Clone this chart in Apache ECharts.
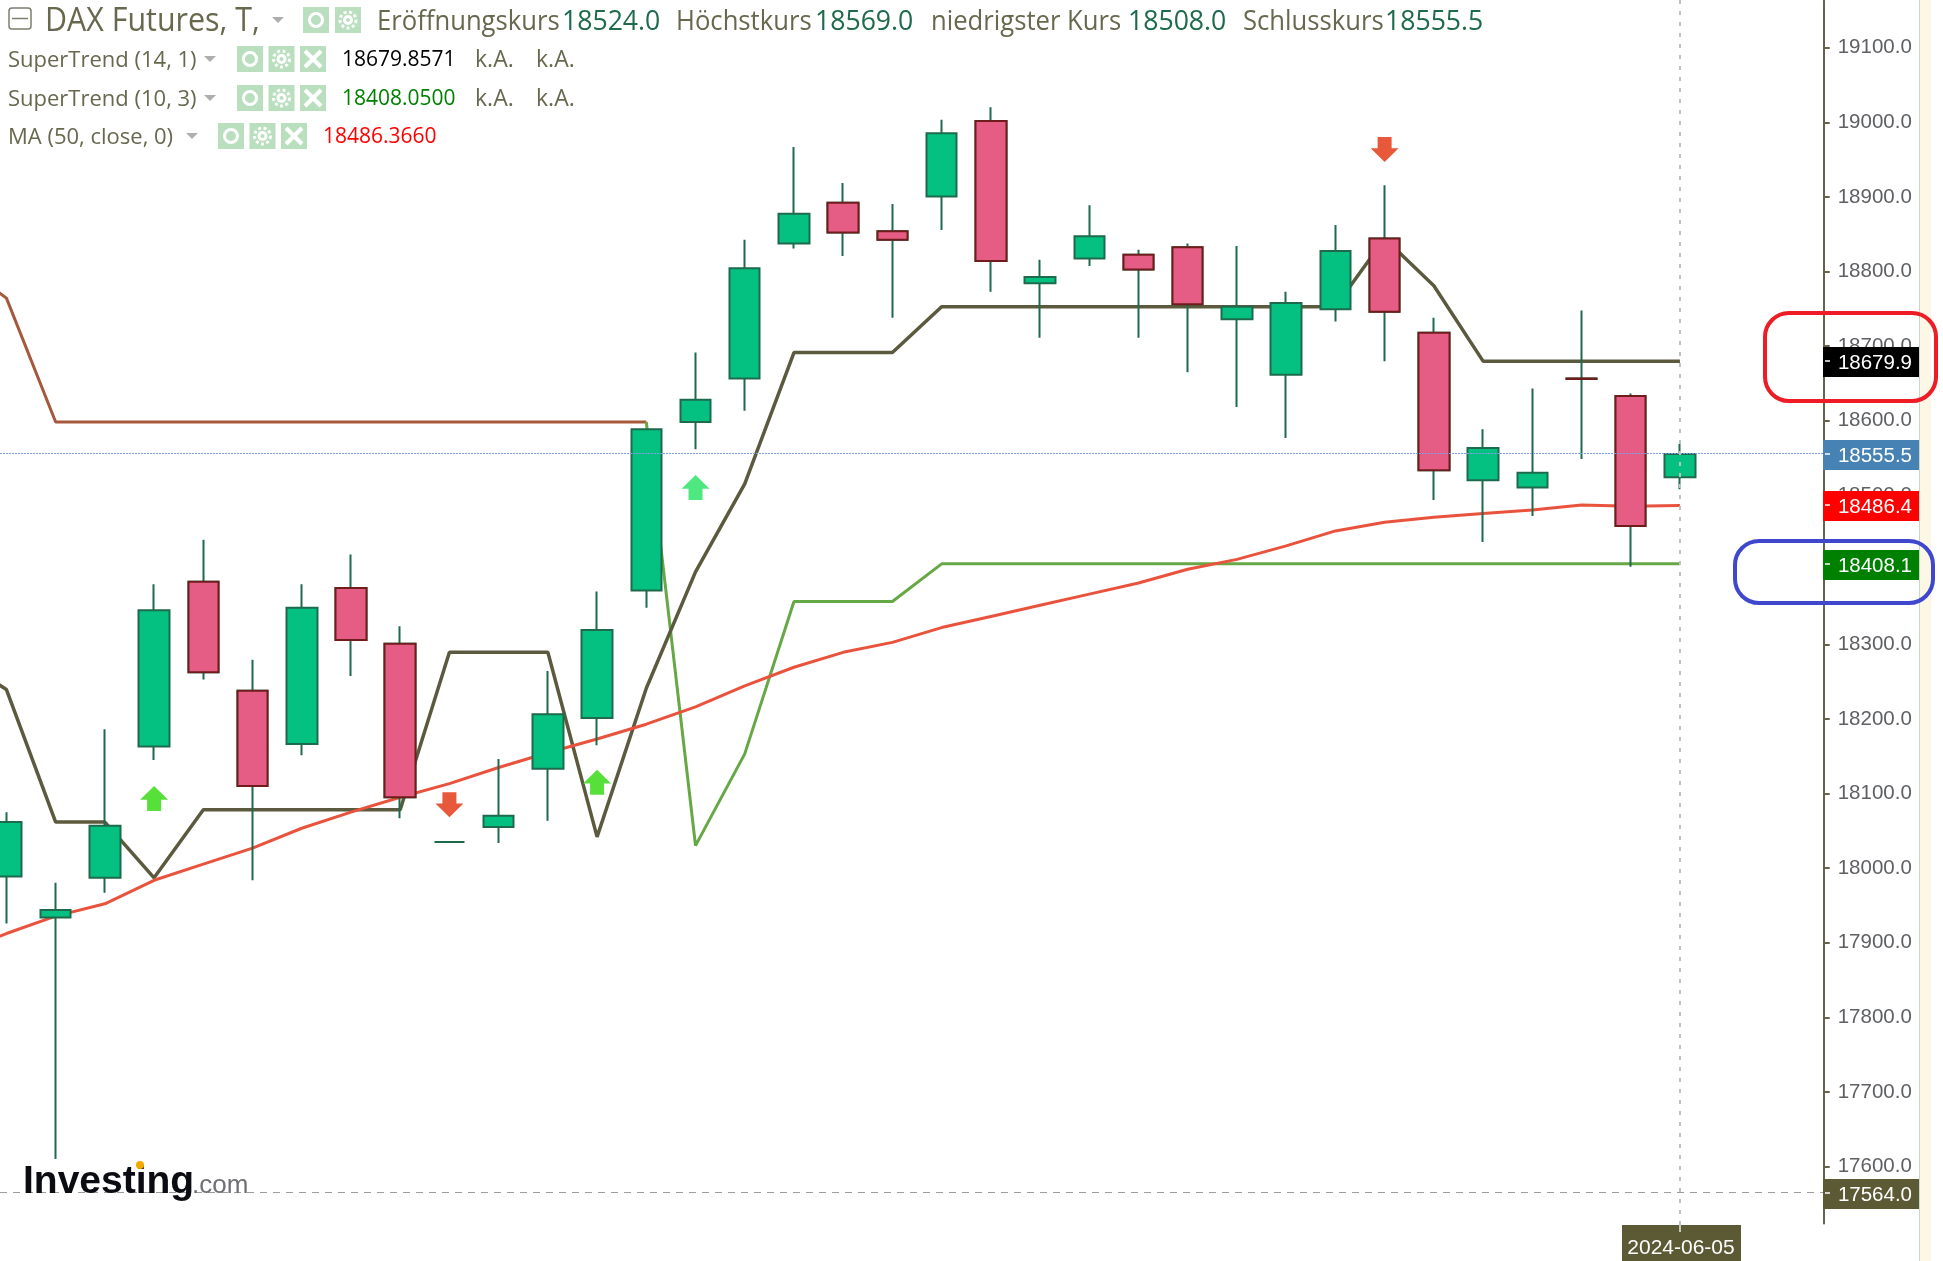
<!DOCTYPE html>
<html>
<head>
<meta charset="utf-8">
<title>DAX Futures</title>
<script src="https://cdn.jsdelivr.net/npm/echarts@6/dist/echarts.min.js"></script>
<style>
  html, body { margin: 0; padding: 0; background: #fff; }
  #chart { width: 1943px; height: 1261px; }
</style>
</head>
<body>
<div id="chart"></div>
<script>
// trading days, one empty day before and two after so the plot runs off both sides
const categories = ['2024-04-16', '2024-04-17', '2024-04-18', '2024-04-19', '2024-04-22', '2024-04-23', '2024-04-24', '2024-04-25',
  '2024-04-26', '2024-04-29', '2024-04-30', '2024-05-02', '2024-05-03', '2024-05-06', '2024-05-07', '2024-05-08', '2024-05-09',
  '2024-05-10', '2024-05-13', '2024-05-14', '2024-05-15', '2024-05-16', '2024-05-17', '2024-05-20', '2024-05-21', '2024-05-22',
  '2024-05-23', '2024-05-24', '2024-05-27', '2024-05-28', '2024-05-29', '2024-05-30', '2024-05-31', '2024-06-03', '2024-06-04',
  '2024-06-05', '2024-06-06', '2024-06-07'];

// open, close, low, high
const ohlc = [
  [17988.7, 18061.8, 17925.6, 18075], [17933.9, 17943.9, 17610, 17980.4], [17987, 18056.8, 17967.1, 18186.4],
  [18163.1, 18345.9, 18144.9, 18380.7], [18384.1, 18262.8, 18252.8, 18440.5], [18237.9, 18110, 17983.7, 18279.4],
  [18166.5, 18349.2, 18151.5, 18380.7], [18375.8, 18306, 18257.8, 18420.6], [18301, 18095, 18066.8, 18324.3],
  [18035.2, 18035.2, 18035.2, 18035.2], [18055.2, 18070.1, 18033.6, 18146.5], [18133.2, 18206.3, 18063.5, 18264.5],
  [18201.3, 18319.3, 18164.8, 18370.8], [18372.4, 18588.4, 18349.2, 18588.4], [18598.3, 18628.2, 18561.8, 18691.4],
  [18656.5, 18804.3, 18613.3, 18842.5], [18837.5, 18877.4, 18830.9, 18967.1], [18892.4, 18852.5, 18820.9, 18918.9],
  [18854.1, 18842.5, 18737.9, 18890.7], [18900.7, 18985.4, 18855.8, 19003.6], [19002, 18814.3, 18772.8, 19020.3],
  [18784.4, 18792.7, 18711.3, 18815.9], [18817.6, 18847.5, 18807.6, 18889], [18822.6, 18802.7, 18711.3, 18829.2],
  [18832.6, 18756.1, 18664.8, 18837.5], [18736.2, 18752.8, 18618.3, 18834.2], [18661.5, 18757.8, 18576.7, 18772.8],
  [18749.5, 18827.6, 18732.9, 18862.5], [18844.2, 18746.2, 18679.7, 18915.6], [18717.9, 18533.6, 18493.7, 18737.9],
  [18520.3, 18563.5, 18437.2, 18588.4], [18510.3, 18530.2, 18472.1, 18643.2], [18656.5, 18656, 18548.5, 18747.8],
  [18633.2, 18458.8, 18404, 18636.5], [18524, 18555.5, 18508, 18569]
];

const superTrend14 = [18282.7, 18239.5, 18061.8, 18061.8, 17987, 18078.4, 18078.4, 18078.4, 18078.4, 18078.4, 18289.4, 18289.4,
  18289.4, 18041.9, 18241.2, 18397.3, 18515.3, 18691.4, 18691.4, 18691.4, 18752.8, 18752.8, 18752.8, 18752.8, 18752.8, 18752.8,
  18752.8, 18752.8, 18752.8, 18844.2, 18781, 18679.86, 18679.86, 18679.86, 18679.86, 18679.86];

const superTrend10Down = [18814, 18764.4, 18598.3, 18598.3, 18598.3, 18598.3, 18598.3, 18598.3, 18598.3, 18598.3, 18598.3,
  18598.3, 18598.3, 18598.3, 18598.3];
const superTrend10Up = [18598.3, 18030.2, 18153.2, 18357.5, 18357.5, 18357.5, 18408.05, 18408.05, 18408.05, 18408.05, 18408.05,
  18408.05, 18408.05, 18408.05, 18408.05, 18408.05, 18408.05, 18408.05, 18408.05, 18408.05, 18408.05, 18408.05];

const ma50 = [17885.7, 17912.3, 17935.6, 17952.2, 17983.7, 18005.3, 18026.9, 18053.5, 18075.1, 18095, 18113.3, 18134.9, 18154.8,
  18173.1, 18193, 18216.3, 18244.5, 18269.4, 18289.4, 18302.7, 18322.6, 18337.5, 18352.5, 18367.4, 18382.4, 18400.7, 18414,
  18432.2, 18452.2, 18463.8, 18470.4, 18475.4, 18480.4, 18487, 18485.4, 18486.4];

const buySignals = [['2024-04-22', 18093.4], ['2024-05-06', 18115]];
const freshBuySignals = [['2024-05-08', 18510.3]];
const sellSignals = [['2024-04-30', 18085], ['2024-05-28', 18963.8]];

const tickLabels = [17600, 17700, 17800, 17900, 18000, 18100, 18200, 18300, 18400, 18500, 18600, 18700, 18800, 18900, 19000, 19100];
const tagValues = [18679.9, 18555.5, 18486.4, 18408.1, 17564.0];
const tagColors = ['#000000', '#4682b4', '#ff0000', '#008000', '#5c5a35'];
const lastDate = '2024-06-05';
const lastPrice = 18555.5;
const lowPrice = 17564.0;

const axisX = 1824;
const labelColor = '#68684f';
const valueColor = '#1d6a4c';
const iconColor = '#b9dfbf';

const chart = echarts.init(document.getElementById('chart'));

function txt(text, x, y, size, fill, scaleX) {
  return {
    type: 'text', x, y, scaleX: scaleX || 1, z: 20,
    style: { text, fill, font: size + 'px "Open Sans"', textVerticalAlign: 'middle' }
  };
}

function caret(x, y) {
  return { type: 'polygon', z: 20, shape: { points: [[x, y], [x + 12, y], [x + 6, y + 6]] }, style: { fill: '#aeaeae' } };
}

// eye / gear / close buttons of the legend rows
function icon(kind, x, y) {
  const cx = x + 13, cy = y + 13;
  const out = [{ type: 'rect', z: 20, shape: { x, y, width: 26, height: 26 }, style: { fill: iconColor } }];
  if (kind === 'eye') {
    out.push({ type: 'circle', z: 21, shape: { cx, cy, r: 6.5 }, style: { fill: 'none', stroke: '#fff', lineWidth: 3 } });
  } else if (kind === 'gear') {
    out.push({ type: 'circle', z: 21, shape: { cx, cy, r: 8 }, style: { fill: 'none', stroke: '#fff', lineWidth: 3, lineDash: [3, 2.5] } });
    out.push({ type: 'circle', z: 21, shape: { cx, cy, r: 5 }, style: { fill: '#fff' } });
    out.push({ type: 'circle', z: 22, shape: { cx, cy, r: 2 }, style: { fill: iconColor } });
  } else {
    out.push({ type: 'line', z: 21, shape: { x1: x + 5, y1: y + 5, x2: x + 21, y2: y + 21 }, style: { stroke: '#fff', lineWidth: 4 } });
    out.push({ type: 'line', z: 21, shape: { x1: x + 21, y1: y + 5, x2: x + 5, y2: y + 21 }, style: { stroke: '#fff', lineWidth: 4 } });
  }
  return out;
}

function legendRow(name, y, caretX, iconX, value, color, valueX, naCols) {
  const ty = y + 1.3;
  let out = [txt(name, 8, ty, 22, labelColor), caret(caretX, y - 3), txt(value, valueX, ty, 21, color)];
  ['eye', 'gear', 'close'].forEach((k, i) => { out = out.concat(icon(k, iconX + i * 31.5, y - 13)); });
  naCols.forEach((x) => out.push(txt('k.A.', x, ty, 23, labelColor)));
  return out;
}

const headerScale = 0.95;
const graphics = [
  { type: 'rect', z: 1, shape: { x: 1920, y: 0, width: 11, height: 1261 }, style: { fill: '#fdf7e6' } },
  { type: 'line', z: 1, shape: { x1: 1919.5, y1: 0, x2: 1919.5, y2: 1261 }, style: { stroke: '#c9d8c9', lineWidth: 1 } },
  { type: 'rect', z: 20, shape: { x: 9, y: 8, width: 22, height: 21, r: 3 }, style: { fill: 'none', stroke: '#7d7d6e', lineWidth: 1.5 } },
  { type: 'line', z: 20, shape: { x1: 12, y1: 18.5, x2: 28, y2: 18.5 }, style: { stroke: '#7d7d6e', lineWidth: 1.5 } },
  txt('DAX Futures, T,', 45, 22, 32, labelColor, headerScale),
  caret(272, 17),
  ...icon('eye', 303, 7), ...icon('gear', 335, 7),
  txt('Eröffnungskurs', 377, 22, 27, labelColor, headerScale),
  txt('18524.0', 562, 22, 28, valueColor, headerScale),
  txt('Höchstkurs', 676, 22, 27, labelColor, headerScale),
  txt('18569.0', 815, 22, 28, valueColor, headerScale),
  txt('niedrigster Kurs', 931, 22, 27, labelColor, headerScale),
  txt('18508.0', 1128, 22, 28, valueColor, headerScale),
  txt('Schlusskurs', 1243, 22, 27, labelColor, headerScale),
  txt('18555.5', 1385, 22, 28, valueColor, headerScale),
  ...legendRow('SuperTrend (14, 1)', 59, 204, 237, '18679.8571', '#000000', 342, [475, 536]),
  ...legendRow('SuperTrend (10, 3)', 98, 204, 237, '18408.0500', '#008000', 342, [475, 536]),
  ...legendRow('MA (50, close, 0)', 136, 186, 218, '18486.3660', '#ff0000', 323, []),
  // hand-drawn annotation rings
  { type: 'rect', z: 30, shape: { x: 1765, y: 313, width: 171, height: 88, r: 24 }, style: { fill: 'none', stroke: '#ee1c25', lineWidth: 4 } },
  { type: 'rect', z: 30, shape: { x: 1735, y: 541, width: 198, height: 62, r: 24 }, style: { fill: 'none', stroke: '#3f48cc', lineWidth: 4 } },
  // logo
  {
    type: 'text', x: 23, y: 1182, z: 25,
    style: { text: 'Investing', fill: '#0b0b12', font: 'bold 39px "Liberation Sans"', textVerticalAlign: 'middle' }
  },
  {
    type: 'text', x: 192, y: 1186, z: 25,
    style: { text: '.com', fill: '#6f7076', font: '26px "Liberation Sans"', textVerticalAlign: 'middle' }
  },
  { type: 'circle', z: 26, shape: { cx: 140, cy: 1165, r: 4 }, style: { fill: '#f2a900' } }
];

// guide lines and the price / date tags sitting on the axis
function renderLevels(params, api) {
  const pos = api.coord([api.value(0), api.value(1)]);
  const idx = params.dataIndex;
  const y = Math.round(pos[1]);
  const children = [
    { type: 'rect', shape: { x: axisX - 1, y: y - 14, width: 96, height: 30 }, style: { fill: tagColors[idx] } },
    { type: 'line', shape: { x1: axisX + 1, y1: y, x2: axisX + 6, y2: y }, style: { stroke: '#fff', lineWidth: 1.5 } },
    {
      type: 'text',
      style: { text: api.value(1).toFixed(1), x: 1912, y: y + 2, fill: '#fff', font: '20.5px "Liberation Sans"', textAlign: 'right', textVerticalAlign: 'middle' }
    }
  ];
  if (api.value(1) === lastPrice) {
    children.unshift({ type: 'line', shape: { x1: 0, y1: y - 0.5, x2: axisX, y2: y - 0.5 }, style: { stroke: '#7f9fe0', lineWidth: 1, lineDash: [2, 1] } });
  }
  if (api.value(1) === lowPrice) {
    children.unshift({ type: 'line', shape: { x1: 0, y1: y - 0.5, x2: axisX, y2: y - 0.5 }, style: { stroke: '#a09aa0', lineWidth: 1, lineDash: [7, 6] } });
    const vx = Math.round(pos[0]);
    children.unshift({ type: 'line', shape: { x1: vx, y1: 0, x2: vx, y2: 1232 }, style: { stroke: '#b6c8b6', lineWidth: 2, lineDash: [4, 7] } });
    children.push({ type: 'rect', shape: { x: vx - 58, y: 1225, width: 119, height: 36 }, style: { fill: '#5c5a35' } });
    children.push({ type: 'line', shape: { x1: vx, y1: 1225, x2: vx, y2: 1232 }, style: { stroke: '#c4c8b8', lineWidth: 2 } });
    children.push({
      type: 'text',
      style: { text: lastDate, x: vx + 1, y: 1248, fill: '#fff', font: '21px "Liberation Sans"', textAlign: 'center', textVerticalAlign: 'middle' }
    });
  }
  return { type: 'group', children };
}

const pad = (arr, before) => {
  const out = new Array(before).fill(null).concat(arr);
  while (out.length < categories.length) out.push(null);
  return out;
};
const blank = ['-', '-', '-', '-'];
const candleData = pad(ohlc, 1).map((d) => d || blank);
// falling bodies are drawn again without wicks to get their dark red outline
const downBodies = candleData.map((d) => (d !== blank && d[0] > d[1] ? [d[0], d[1], d[1], d[0]] : blank));

const upArrow = 'path://M10,0 L20,11 L15,11 L15,20 L5,20 L5,11 L0,11 Z';
const downArrow = 'path://M5,0 L15,0 L15,9 L20,9 L10,20 L0,9 L5,9 Z';

const option = {
  animation: false,
  backgroundColor: '#ffffff',
  graphic: graphics,
  grid: { left: -67.4, right: 140, top: 0.7, bottom: 37.6, outerBoundsMode: 'none' },
  xAxis: {
    type: 'category',
    data: categories,
    boundaryGap: true,
    axisLine: { show: false },
    axisTick: { show: false },
    axisLabel: { show: false },
    splitLine: { show: false }
  },
  yAxis: {
    type: 'value',
    position: 'right',
    offset: 20.7,
    min: 17523.6,
    max: 19163.2,
    splitLine: { show: false },
    axisLine: { show: true, lineStyle: { color: '#66634a', width: 2 } },
    axisTick: { show: true, length: 6, customValues: tickLabels, lineStyle: { color: '#66634a', width: 2 } },
    axisLabel: {
      customValues: tickLabels,
      margin: 14,
      color: '#5f6064',
      fontFamily: 'Liberation Sans',
      fontSize: 20.5,
      formatter: (v) => v.toFixed(1)
    }
  },
  series: [
    { name: 'SuperTrend (10, 3) down', type: 'line', z: 1, symbol: 'none', data: pad(superTrend10Down, 0), lineStyle: { color: '#a5583c', width: 3 } },
    { name: 'SuperTrend (10, 3)', type: 'line', z: 1, symbol: 'none', data: pad(superTrend10Up, 14), lineStyle: { color: '#66a845', width: 3 } },
    { name: 'SuperTrend (14, 1)', type: 'line', z: 1, symbol: 'none', data: pad(superTrend14, 0), lineStyle: { color: '#5c5a3e', width: 3.5 } },
    { name: 'MA (50, close, 0)', type: 'line', z: 1, symbol: 'none', data: pad(ma50, 0), lineStyle: { color: '#e9533d', width: 3 } },
    {
      name: 'DAX Futures',
      type: 'candlestick',
      z: 3,
      barWidth: 31,
      data: candleData,
      itemStyle: {
        color: '#05c181', color0: '#e55c85',
        borderColor: '#1e6a4c', borderColor0: '#1e6a4c', borderColorDoji: '#1e6a4c',
        borderWidth: 2
      }
    },
    {
      name: 'DAX Futures bodies',
      type: 'candlestick',
      z: 4,
      barWidth: 31,
      data: downBodies,
      itemStyle: { color: '#05c181', color0: '#e55c85', borderColor: '#6e1c1c', borderColor0: '#6e1c1c', borderWidth: 2 }
    },
    { name: 'buy', type: 'scatter', z: 5, symbol: upArrow, symbolSize: [28, 25], data: buySignals, itemStyle: { color: '#58e03a', opacity: 1 } },
    { name: 'buy 2', type: 'scatter', z: 5, symbol: upArrow, symbolSize: [28, 25], data: freshBuySignals, itemStyle: { color: '#4fe880', opacity: 1 } },
    { name: 'sell', type: 'scatter', z: 5, symbol: downArrow, symbolSize: [28, 25], data: sellSignals, itemStyle: { color: '#e8583a', opacity: 1 } },
    {
      name: 'levels',
      type: 'custom',
      z: 10,
      clip: false,
      silent: true,
      renderItem: renderLevels,
      encode: { x: 0, y: 1 },
      data: tagValues.map((v) => [lastDate, v])
    }
  ]
};

chart.setOption(option);
</script>
</body>
</html>
